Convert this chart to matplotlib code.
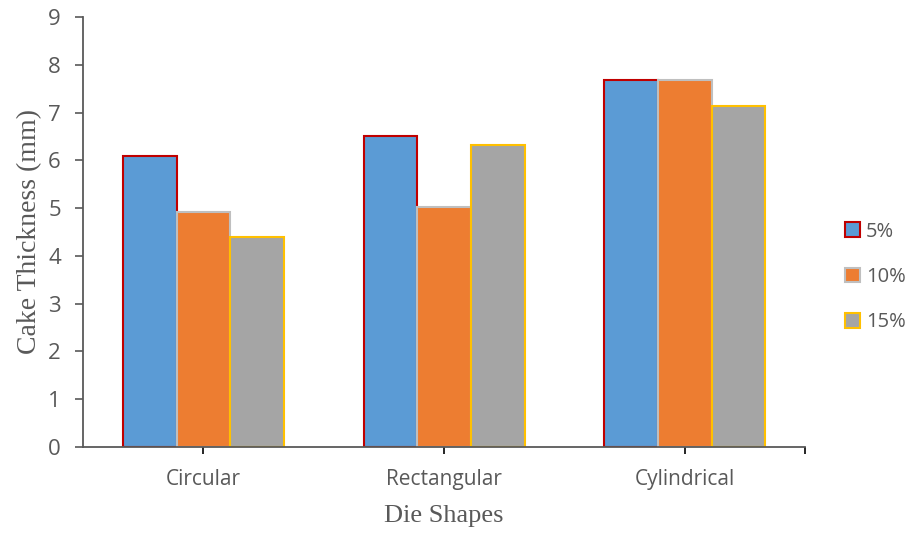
import matplotlib.pyplot as plt
import numpy as np

# 다이 형상별 케이크 두께
shapes = ["Circular", "Rectangular", "Cylindrical"]
labels = ["5%", "10%", "15%"]
t5 = [6.1, 6.52, 7.69]
t10 = [4.91, 5.03, 7.69]
t15 = [4.4, 6.33, 7.13]

faces = ["#5B9BD5", "#ED7D31", "#A5A5A5"]
edges = ["#C00000", "#BFBFBF", "#FFC000"]
axis_gray = "#595959"

fig = plt.figure(figsize=(9.12, 5.35), dpi=100)
ax = fig.add_axes([0.091, 0.165, 0.792, 0.803])

x = np.arange(len(shapes))
w = 0.223
for i, vals in enumerate([t5, t10, t15]):
    ax.bar(x + (i - 1) * w, vals, w, color=faces[i], edgecolor=edges[i],
           linewidth=1.5, label=labels[i], zorder=2)

ax.set_xlim(-0.5, 2.5)
ax.set_ylim(0, 9)
ax.set_yticks(range(10))
ax.set_xticks(x)
ax.set_xticklabels(shapes)
ax.set_xticks([2.5], minor=True)

for s in ["top", "right"]:
    ax.spines[s].set_visible(False)
for s in ["left", "bottom"]:
    ax.spines[s].set_color(axis_gray)
    ax.spines[s].set_linewidth(1.3)

ax.tick_params(axis="y", which="major", direction="out", length=6, width=1.2,
               color=axis_gray, labelcolor=axis_gray, labelsize=16, pad=10)
ax.tick_params(axis="x", which="both", direction="out", length=5, width=1.2,
               color="black", labelcolor=axis_gray, labelsize=15, pad=11)
for t in ax.get_xticklabels() + ax.get_yticklabels():
    t.set_family("Open Sans")

ax.set_ylabel("Cake Thickness (mm)", family="Liberation Serif", fontsize=20,
              color=axis_gray, labelpad=4)
ax.set_xlabel("Die Shapes", family="Liberation Serif", fontsize=19,
              color=axis_gray, labelpad=11)

leg = ax.legend(loc="center left", bbox_to_anchor=(1.03, 0.395), frameon=False,
                prop={"family": "Open Sans", "size": 14.5}, labelspacing=1.25,
                handlelength=0.75, handleheight=0.75, handletextpad=0.3)
for t in leg.get_texts():
    t.set_color(axis_gray)

fig.savefig("out.png", dpi=100, facecolor="white")
